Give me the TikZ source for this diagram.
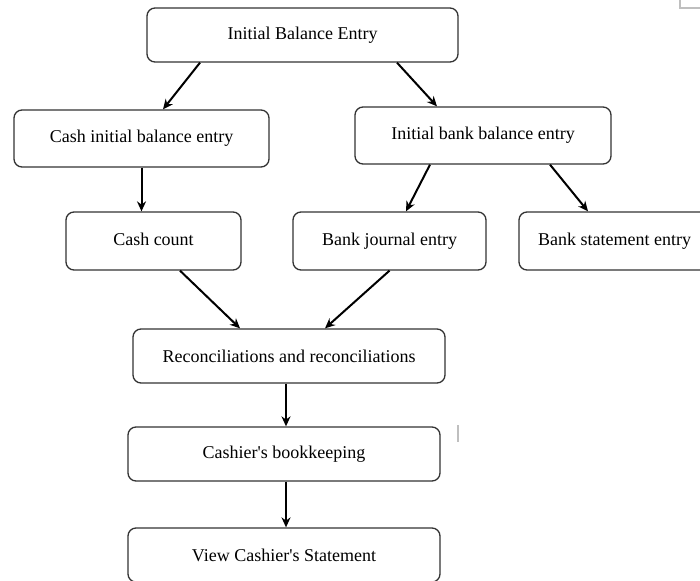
\documentclass[tikz,border=0pt]{standalone}
\usepackage{fontspec}
\setmainfont[Ligatures=TeXOff]{Liberation Serif}
\usetikzlibrary{arrows.meta}
\begin{document}
\begin{tikzpicture}[x=1pt,y=-1pt,
  box/.style={draw=black!80, line width=1.3pt, rounded corners=8pt, fill=white,
    inner sep=0pt, font=\fontsize{18}{20}\selectfont},
  arr/.style={line width=2pt, -{Stealth[length=10pt,width=9pt]}},
  faint/.style={draw=black!25, line width=1.2pt}]
\useasboundingbox (0,0) rectangle (700,580);
\fill[white] (0,0) rectangle (700,580);

% boxes
\node[box, minimum width=311pt, minimum height=54pt] (ibe) at (302.5,35) {\raisebox{3pt}{Initial Balance Entry}};
\node[box, minimum width=255pt, minimum height=57pt] (cib) at (141.5,138.5) {\raisebox{3pt}{Cash initial balance entry}};
\node[box, minimum width=256pt, minimum height=57pt] (ibb) at (483,135.5) {\raisebox{3pt}{Initial bank balance entry}};
\node[box, minimum width=175pt, minimum height=58pt] (cc) at (153.5,241) {\raisebox{4pt}{Cash count}};
\node[box, minimum width=193pt, minimum height=58pt] (bje) at (389.5,241) {Bank journal entry};
\node[box, minimum width=191pt, minimum height=58pt] (bse) at (614.5,241) {Bank statement entry};
\node[box, minimum width=312pt, minimum height=54pt] (rec) at (289,356) {Reconciliations and reconciliations};
\node[box, minimum width=312pt, minimum height=54pt] (cb) at (284,454) {Cashier's bookkeeping};
\node[box, minimum width=312pt, minimum height=54pt] (vcs) at (284,555) {View Cashier's Statement};

% connectors
\draw[arr] ([xshift=-102.5pt]ibe.south) -- ([xshift=21.5pt]cib.north);
\draw[arr] ([xshift=94.5pt]ibe.south) -- ([xshift=-46pt]ibb.north);
\draw[arr] (cib.south) -- ([xshift=-12pt]cc.north);
\draw[arr] ([xshift=-53pt]ibb.south) -- ([xshift=16.5pt]bje.north);
\draw[arr] ([xshift=67pt]ibb.south) -- ([xshift=-26.5pt]bse.north);
\draw[arr] ([xshift=26.5pt]cc.south) -- ([xshift=-49pt]rec.north);
\draw[arr] (bje.south) -- ([xshift=36pt]rec.north);
\draw[arr] ([xshift=-3pt]rec.south) -- ([xshift=2pt]cb.north);
\draw[arr] ([xshift=2pt]cb.south) -- ([xshift=2pt]vcs.north);

% faint marks
\draw[faint] (680,0) -- (680,8) -- (700,8);
\draw[faint] (458,425) -- (458,442);
\end{tikzpicture}
\end{document}
